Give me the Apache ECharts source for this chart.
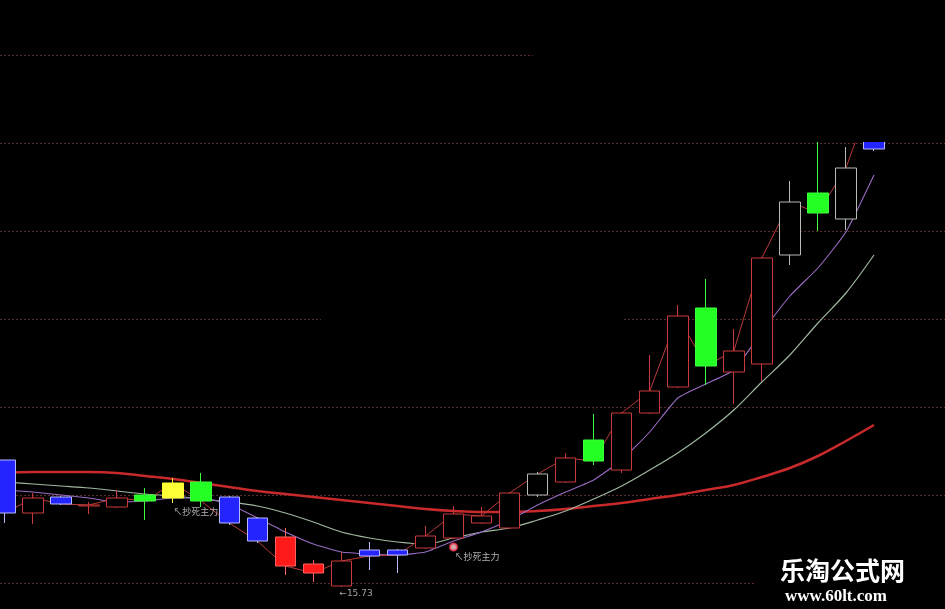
<!DOCTYPE html>
<html>
<head>
<meta charset="utf-8">
<script src="https://cdn.jsdelivr.net/npm/echarts@6/dist/echarts.min.js"></script>
<style>html,body{margin:0;padding:0;background:#000;}#c{width:945px;height:609px;}</style>
</head>
<body>
<div id="c"></div>
<script>
const categories = ['1','2','3','4','5','6','7','8','9','10','11','12','13','14','15','16','17','18','19','20','21','22','23','24','25','26','27','28','29','30','31','32'];
const opens  = [17.00,16.47,16.63,16.54,16.53,16.65,16.62,16.78,16.63,16.42,16.23,15.96,15.74,16.10,16.10,16.12,16.22,16.37,16.32,16.65,16.78,17.20,16.90,17.47,17.73,18.52,17.88,17.96,19.05,19.67,19.41,20.11];
const closes = [16.47,16.62,16.56,16.55,16.62,16.59,16.77,16.59,16.37,16.19,15.94,15.87,15.99,16.04,16.05,16.24,16.46,16.44,16.67,16.86,17.02,16.99,17.47,17.69,18.44,17.94,18.09,19.02,19.58,19.47,19.92,20.70];
const lows   = [16.37,16.36,16.55,16.46,16.52,16.40,16.57,16.53,16.35,16.17,15.85,15.78,15.73,15.90,15.87,16.11,16.21,16.36,16.31,16.63,16.77,16.95,16.87,17.46,17.72,17.75,17.56,17.79,18.95,19.29,19.30,20.09];
const highs  = [17.00,16.67,16.64,16.58,16.70,16.72,16.82,16.87,16.64,16.43,16.32,16.00,16.08,16.18,16.11,16.34,16.54,16.53,16.68,16.88,17.07,17.46,17.48,18.05,18.55,18.81,18.31,19.03,19.79,20.30,20.13,20.80];
const kinds  = ['blue','redHollow','blue','redHollow','redHollow','green','yellow','green','blue','blue','redFill','redFill','redHollow','blue','blue','redHollow','redHollow','redHollow','redHollow','grayHollow','redHollow','green','redHollow','redHollow','redHollow','green','redHollow','redHollow','grayHollow','green','grayHollow','blue'];
const ma5    = [16.70,16.68,16.65,16.62,16.58,16.59,16.62,16.62,16.56,16.42,16.28,16.16,16.08,16.06,16.05,16.08,16.19,16.28,16.40,16.55,16.68,16.80,17.00,17.28,17.62,17.76,17.90,18.28,18.64,18.92,19.28,19.85];
const ma10   = [16.78,16.76,16.74,16.72,16.69,16.66,16.64,16.61,16.58,16.54,16.47,16.38,16.28,16.22,16.18,16.16,16.22,16.28,16.32,16.40,16.49,16.61,16.74,16.90,17.07,17.27,17.50,17.78,18.05,18.37,18.67,19.05];
const ma60   = [16.87,16.88,16.88,16.88,16.87,16.84,16.81,16.77,16.73,16.69,16.66,16.63,16.60,16.57,16.54,16.51,16.49,16.48,16.48,16.49,16.51,16.54,16.57,16.61,16.65,16.70,16.75,16.83,16.92,17.04,17.19,17.35];
const signalIdx = [6, 16];
const signalText = '↖抄死主力';
const lowIdx = 12;
const lowText = '←15.73';
const brandName = '乐淘公式网';
const brandUrl = 'www.60lt.com';

const kindStyle = {
  blue:       {fill:'#2424ff', border:'#b8b8ff'},
  redHollow:  {fill:'#000000', border:'#c8393b'},
  redFill:    {fill:'#ff1a1a', border:'#ff6060'},
  green:      {fill:'#24ff24', border:'#3cff3c'},
  yellow:     {fill:'#ffff36', border:'#ffff36'},
  grayHollow: {fill:'#000000', border:'#b4bcb4'}
};

const candleData = categories.map((c, i) => {
  const s = kindStyle[kinds[i]];
  return {
    value: [opens[i], closes[i], lows[i], highs[i]],
    itemStyle: {color: s.fill, color0: s.fill, borderColor: s.border, borderColor0: s.border, borderWidth: 1}
  };
});

const gridLineStyle = {color: '#5a2c2c', type: [2, 2], width: 1};
const textOffsets = [[0, 4], [1, 13]];

const chart = echarts.init(document.getElementById('c'), null, {renderer: 'canvas'});
chart.setOption({
  backgroundColor: '#000000',
  animation: false,
  grid: [
    {left: 5, right: 71, top: 143, bottom: 0},
    {left: 0, right: 0, top: 143, height: 440}
  ],
  xAxis: [
    {type: 'category', data: categories, boundaryGap: false, show: false, gridIndex: 0},
    {type: 'value', min: 0, max: 1, show: false, gridIndex: 1}
  ],
  yAxis: [
    {type: 'value', min: 15.51, max: 20.17, show: false, gridIndex: 0, splitLine: {show: false}},
    {type: 'value', min: 0, max: 5, interval: 1, gridIndex: 1,
     axisLine: {show: false}, axisTick: {show: false}, axisLabel: {show: false},
     splitLine: {show: true, lineStyle: gridLineStyle}}
  ],
  series: [
    {name: 'MA60', type: 'line', data: ma60, symbol: 'none', smooth: 0.4, z: 2,
     lineStyle: {color: '#c8292b', width: 2.5}},
    {name: 'MA10', type: 'line', data: ma10, symbol: 'none', smooth: 0.3, z: 2,
     lineStyle: {color: '#9fb79f', width: 1.2}},
    {name: 'MA5', type: 'line', data: ma5, symbol: 'none', smooth: 0.15, z: 2,
     lineStyle: {color: '#9a6cc4', width: 1.1}},
    {name: 'Close', type: 'line', data: closes, symbol: 'none', z: 2,
     lineStyle: {color: '#b8393b', width: 1}},
    {name: 'K', type: 'candlestick', data: candleData, barWidth: 21, z: 3},
    {name: 'signalIcon', type: 'scatter', z: 6,
     data: [{value: [signalIdx[1], lows[signalIdx[1]]]}],
     symbol: 'circle', symbolSize: 7, symbolOffset: [0, 8],
     itemStyle: {color: '#ffd4d4', borderColor: '#ff3a5a', borderWidth: 2}},
    {name: 'signalText', type: 'scatter', z: 7,
     symbolSize: 0.1, itemStyle: {color: 'rgba(0,0,0,0)'},
     data: signalIdx.map((idx, k) => ({
       value: [idx, lows[idx]],
       label: {show: true, formatter: signalText, position: textOffsets[k], align: 'left', verticalAlign: 'top',
               color: '#d8d8d8', fontSize: 9, fontFamily: '"Noto Sans CJK SC"'}
     }))},
    {name: 'lowText', type: 'scatter', z: 7,
     symbolSize: 0.1, itemStyle: {color: 'rgba(0,0,0,0)'},
     data: [{value: [lowIdx, lows[lowIdx]],
       label: {show: true, formatter: lowText, position: [-2, 2], align: 'left', verticalAlign: 'top',
               color: '#c8c8c8', fontSize: 9, fontFamily: '"DejaVu Sans"'}}]}
  ],
  graphic: [
    {type: 'rect', silent: true, z: 10, shape: {x: 0, y: 0, width: 945, height: 142}, style: {fill: '#000'}},
    {type: 'line', silent: true, z: 11, shape: {x1: 0, y1: 55.5, x2: 533, y2: 55.5},
     style: {stroke: '#5a2c2c', lineDash: [2, 2], lineWidth: 1}},
    {type: 'rect', silent: true, z: 1, shape: {x: 321, y: 314, width: 303, height: 8}, style: {fill: '#000'}},
    {type: 'rect', silent: true, z: 1, shape: {x: 755, y: 578, width: 190, height: 10}, style: {fill: '#000'}},
    {type: 'text', silent: true, z: 20, x: 780, y: 570,
     style: {text: brandName, fill: '#ffffff', font: 'bold 25px "Noto Sans CJK SC"', verticalAlign: 'middle'}},
    {type: 'text', silent: true, z: 20, x: 785, y: 597,
     style: {text: brandUrl, fill: '#ffffff', font: 'bold 17px "Liberation Serif"', verticalAlign: 'middle'}}
  ]
});
</script>
</body>
</html>
